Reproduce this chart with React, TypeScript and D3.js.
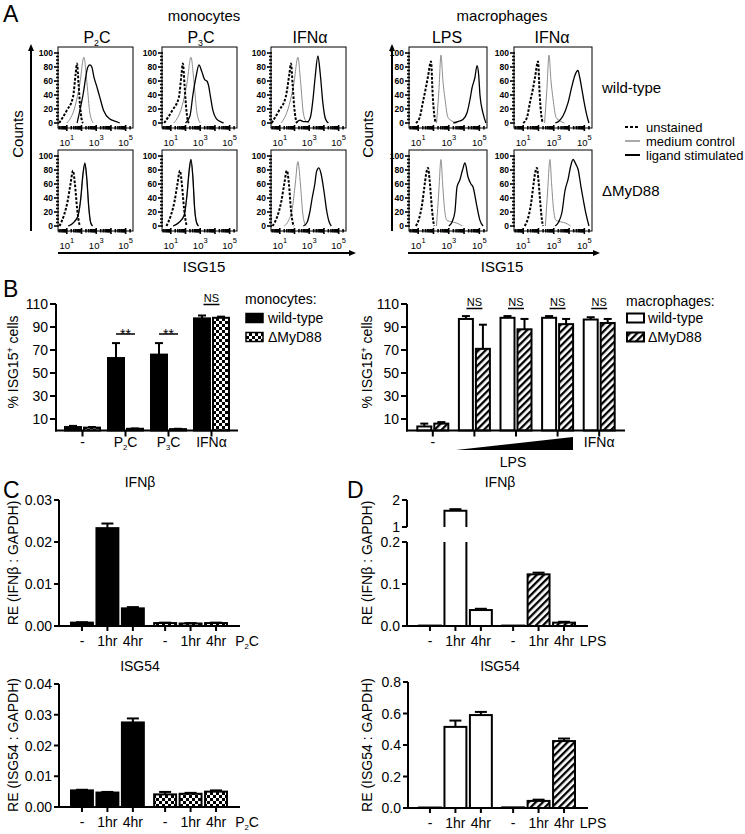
import React from 'react';
import * as d3 from 'd3';

type Pt = [number, number];
type Hist = { unstained: Pt[]; medium: Pt[]; ligand: Pt[] };

const FONT = '"Liberation Sans", Arial, Helvetica, sans-serif';

// ---------- A: flow histograms, [log10 ISG15, % of max] ----------
const monoWtP2C: Hist = {
  unstained: [[0.48, 0], [1.0, 18], [1.42, 37], [1.6, 70], [1.69, 85], [1.8, 55], [1.9, 25], [2.02, 4], [2.1, 0]],
  medium: [[1.0, 0], [1.55, 23], [1.89, 57], [2.16, 94], [2.37, 57], [2.57, 14], [2.8, 0]],
  ligand: [[1.7, 0], [2.1, 40], [2.43, 80], [2.57, 83], [2.7, 80], [2.84, 66], [3.04, 52], [3.24, 37], [3.5, 18], [3.9, 6], [4.37, 2], [4.6, 0]],
};
const monoWtP3C: Hist = {
  unstained: [[0.55, 0], [1.1, 18], [1.55, 37], [1.73, 70], [1.82, 85], [1.93, 55], [2.03, 25], [2.15, 4], [2.23, 0]],
  medium: [[1.2, 0], [1.75, 23], [2.1, 57], [2.37, 94], [2.58, 57], [2.78, 14], [3.0, 0]],
  ligand: [[2.0, 0], [2.3, 10], [2.5, 40], [2.75, 70], [2.91, 83], [3.1, 74], [3.3, 62], [3.45, 60], [3.55, 55], [3.7, 37], [3.86, 18], [4.1, 6], [4.47, 1], [4.6, 0]],
};
const monoWtIfn: Hist = {
  unstained: [[0.45, 0], [0.95, 18], [1.4, 37], [1.65, 70], [1.76, 85], [1.87, 55], [1.97, 25], [2.1, 4], [2.18, 0]],
  medium: [[1.1, 0], [1.6, 23], [1.96, 57], [2.23, 94], [2.42, 57], [2.6, 14], [2.8, 2], [3.0, 0]],
  ligand: [[2.1, 0], [2.37, 4], [2.6, 2], [2.9, 2], [3.1, 10], [3.25, 33], [3.4, 65], [3.59, 96], [3.75, 70], [3.93, 28], [4.1, 6], [4.3, 0]],
};
const monoKoP2C: Hist = {
  unstained: [[0.5, 0], [0.8, 15], [1.05, 35], [1.25, 60], [1.42, 79], [1.55, 60], [1.7, 25], [1.85, 3], [1.92, 0]],
  medium: [[1.1, 0], [1.5, 5], [1.75, 13], [1.95, 38], [2.1, 72], [2.22, 88], [2.35, 68], [2.5, 24], [2.62, 5], [2.75, 0]],
  ligand: [[1.1, 0], [1.5, 6], [1.75, 14], [1.95, 40], [2.1, 75], [2.23, 90], [2.35, 70], [2.5, 25], [2.62, 5], [2.75, 0]],
};
const monoKoP3C: Hist = {
  unstained: [[0.7, 0], [1.0, 15], [1.25, 35], [1.45, 60], [1.62, 79], [1.75, 60], [1.9, 25], [2.05, 3], [2.12, 0]],
  medium: [[1.15, 0], [1.55, 5], [1.9, 14], [2.1, 43], [2.25, 78], [2.36, 93], [2.5, 68], [2.62, 24], [2.75, 5], [2.88, 0]],
  ligand: [[1.15, 0], [1.55, 5], [1.9, 15], [2.1, 45], [2.25, 80], [2.37, 95], [2.5, 70], [2.62, 25], [2.75, 5], [2.88, 0]],
};
const monoKoIfn: Hist = {
  unstained: [[0.5, 0], [0.85, 15], [1.1, 35], [1.3, 60], [1.48, 79], [1.62, 60], [1.75, 25], [1.9, 3], [1.98, 0]],
  medium: [[1.3, 0], [1.6, 8], [1.85, 25], [2.05, 60], [2.23, 92], [2.4, 60], [2.55, 20], [2.7, 3], [2.8, 0]],
  ligand: [[2.6, 0], [2.85, 5], [3.04, 20], [3.2, 40], [3.38, 60], [3.5, 78], [3.65, 83], [3.8, 75], [4.0, 50], [4.2, 20], [4.35, 6], [4.5, 0]],
};
const macroWtLps: Hist = {
  unstained: [[0.85, 0], [1.1, 8], [1.31, 30], [1.5, 50], [1.64, 66], [1.84, 88], [1.95, 40], [2.05, 12], [2.16, 0]],
  medium: [[2.2, 0], [2.36, 48], [2.49, 97], [2.62, 60], [2.75, 35], [2.95, 8], [3.2, 3], [3.5, 0]],
  ligand: [[3.3, 0], [3.6, 2], [3.93, 5], [4.2, 15], [4.4, 35], [4.52, 50], [4.71, 65], [4.85, 82], [4.95, 70], [5.04, 40], [5.24, 14], [5.43, 0]],
};
const macroWtIfn: Hist = {
  unstained: [[1.0, 0], [1.25, 8], [1.45, 30], [1.65, 50], [1.78, 66], [1.97, 88], [2.08, 40], [2.18, 12], [2.28, 0]],
  medium: [[2.4, 0], [2.55, 48], [2.69, 97], [2.82, 60], [2.95, 35], [3.15, 8], [3.4, 3], [3.7, 0]],
  ligand: [[3.1, 0], [3.35, 3], [3.6, 10], [3.92, 28], [4.18, 52], [4.38, 68], [4.58, 75], [4.7, 65], [4.84, 48], [5.0, 28], [5.15, 12], [5.3, 0]],
};
const macroKoLps: Hist = {
  unstained: [[0.85, 0], [1.05, 10], [1.25, 30], [1.4, 55], [1.55, 78], [1.64, 83], [1.75, 65], [1.88, 30], [1.98, 8], [2.05, 0]],
  medium: [[2.2, 0], [2.35, 50], [2.49, 95], [2.6, 60], [2.72, 25], [2.88, 8], [3.2, 6], [3.54, 4], [3.9, 0]],
  ligand: [[3.0, 0], [3.2, 5], [3.4, 20], [3.54, 56], [3.73, 66], [3.9, 80], [4.06, 90], [4.26, 70], [4.45, 60], [4.58, 56], [4.84, 28], [5.04, 8], [5.24, 0]],
};
const macroKoIfn: Hist = {
  unstained: [[1.1, 0], [1.3, 10], [1.5, 30], [1.65, 55], [1.8, 78], [1.9, 83], [2.0, 65], [2.13, 30], [2.23, 8], [2.3, 0]],
  medium: [[2.45, 0], [2.6, 50], [2.75, 95], [2.86, 60], [2.98, 25], [3.15, 8], [3.45, 6], [3.8, 4], [4.1, 0]],
  ligand: [[3.1, 0], [3.3, 5], [3.54, 20], [3.73, 50], [3.95, 68], [4.1, 85], [4.26, 95], [4.45, 88], [4.6, 80], [4.78, 56], [4.95, 35], [5.1, 18], [5.3, 0]],
};

const monoLabels = ['P2C', 'P3C', 'IFNα'];
const macroLabels = ['LPS', 'IFNα'];
const monoRows = [[monoWtP2C, monoWtP3C, monoWtIfn], [monoKoP2C, monoKoP3C, monoKoIfn]];
const macroRows = [[macroWtLps, macroWtIfn], [macroKoLps, macroKoIfn]];
const rowLabels = ['wild-type', 'ΔMyD88'];
const histYTicks = [0, 20, 40, 60, 80, 100];
const histXTicks = [1, 3, 5];
const histLegend = ['unstained', 'medium control', 'ligand stimulated'];

// ---------- B: % ISG15+ cells ----------
const monoGroups = ['-', 'P2C', 'P3C', 'IFNα'];
const monoWt = [3, 63, 66, 97.5];
const monoWtErr = [1, 13, 10, 2.5];
const monoKo = [2.5, 1.5, 1.2, 98];
const monoKoErr = [0.5, 0.3, 0.3, 1];
const monoSig = ['', '**', '**', 'NS'];

const macroGroups = ['-', 'LPS1', 'LPS2', 'LPS3', 'IFNα'];
const macroWt = [3.5, 97, 98, 98, 96.5];
const macroWtErr = [2.5, 2.5, 1.5, 1.5, 2];
const macroKo = [6, 71, 88, 92.5, 93.5];
const macroKoErr = [1.3, 21, 9, 4.5, 3.5];
const macroSig = ['', 'NS', 'NS', 'NS', 'NS'];
const pctTicks = [10, 30, 50, 70, 90, 110];

// ---------- C / D: qPCR ----------
const genotypes = ['wild-type', 'ΔMyD88'];
const timepoints = ['-', '1hr', '4hr'];

const cIfnbWt = [0.0008, 0.0233, 0.0042];
const cIfnbWtErr = [0.0001, 0.0011, 0.0003];
const cIfnbKo = [0.0007, 0.0006, 0.0007];
const cIfnbKoErr = [0.0001, 0.0001, 0.0001];
const cIsgWt = [0.0054, 0.0047, 0.0275];
const cIsgWtErr = [0.0002, 0.0002, 0.0013];
const cIsgKo = [0.0041, 0.0043, 0.005];
const cIsgKoErr = [0.0008, 0.0003, 0.0004];

const dIfnbWt = [0.001, 1.6, 0.038];
const dIfnbWtErr = [0, 0.06, 0.003];
const dIfnbKo = [0.001, 0.123, 0.008];
const dIfnbKoErr = [0, 0.004, 0.002];
const dIsgWt = [0.003, 0.515, 0.59];
const dIsgWtErr = [0, 0.04, 0.02];
const dIsgKo = [0.004, 0.045, 0.425];
const dIsgKoErr = [0, 0.008, 0.016];

// label with an optional subscript digit, e.g. P2C -> P₂C
function SubLabel({ text, x, y, size = 14, anchor = 'middle' }: { text: string; x: number; y: number; size?: number; anchor?: string }) {
  const m = text.match(/^P(\d)C$/);
  return (
    <text x={x} y={y} fontSize={size} textAnchor={anchor as any}>
      {m ? (
        <>
          <tspan>P</tspan>
          <tspan fontSize={size * 0.55} dy={size * 0.2}>{m[1]}</tspan>
          <tspan dy={-size * 0.2}>C</tspan>
        </>
      ) : text}
    </text>
  );
}

function HistPanel({ x0, y0, w, data }: { x0: number; y0: number; w: number; data: Hist }) {
  const h = 81;
  const x = d3.scaleLinear().domain([0.4, 5.5]).range([x0, x0 + w]);
  const y = d3.scaleLinear().domain([0, 100]).range([y0 + 76, y0 + 6]);
  const line = d3.line<Pt>().x(d => x(d[0])).y(d => y(d[1])).curve(d3.curveMonotoneX);
  const logTicks: { v: number; major: boolean }[] = [];
  for (let dec = 0; dec <= 5; dec++) {
    for (let k = 1; k <= 9; k++) {
      const v = dec + Math.log10(k);
      if (v > 0.45 && v < 5.45) logTicks.push({ v, major: k === 1 });
    }
  }
  const bottom = y0 + h;
  return (
    <g>
      <path d={line(data.medium) || ''} fill="none" stroke="#8c8c8c" strokeWidth={1} />
      <path d={line(data.ligand) || ''} fill="none" stroke="#000" strokeWidth={1.3} />
      <path d={line(data.unstained) || ''} fill="none" stroke="#000" strokeWidth={2} strokeDasharray="2.6,1.6" />
      <rect x={x0} y={y0} width={w} height={h} fill="none" stroke="#000" strokeWidth={1} />
      {logTicks.map((t, i) => (
        <line key={i} x1={x(t.v)} x2={x(t.v)} y1={bottom - (t.major ? 3 : 2)} y2={bottom + (t.major ? 3 : 1.5)} stroke="#000" strokeWidth={1.6} />
      ))}
      {d3.range(0, 101, 5).map(v => (
        <line key={v} x1={x0 - (v % 20 === 0 ? 4 : 2)} x2={x0 + 1} y1={y(v)} y2={y(v)} stroke="#000" strokeWidth={1.6} />
      ))}
      {histYTicks.map(v => (
        <text key={v} x={x0 - 5} y={y(v) + 3} fontSize={8.5} fontWeight="bold" textAnchor="end">{v}</text>
      ))}
      {histXTicks.map(v => (
        <text key={v} x={x(v)} y={bottom + 18} fontSize={9.5} textAnchor="middle">
          10<tspan fontSize={7.5} dy={-6}>{v}</tspan>
        </text>
      ))}
    </g>
  );
}

function Arrow({ x1, y1, x2, y2 }: { x1: number; y1: number; x2: number; y2: number }) {
  const ang = Math.atan2(y2 - y1, x2 - x1);
  const L = 7, W = 3;
  const bx = x2 - L * Math.cos(ang), by = y2 - L * Math.sin(ang);
  const px = -Math.sin(ang) * W, py = Math.cos(ang) * W;
  return (
    <g>
      <line x1={x1} y1={y1} x2={bx} y2={by} stroke="#000" strokeWidth={2} />
      <polygon points={`${x2},${y2} ${bx + px},${by + py} ${bx - px},${by - py}`} fill="#000" />
    </g>
  );
}

function ErrBar({ cx, y0, y1, cap }: { cx: number; y0: number; y1: number; cap: number }) {
  return (
    <g stroke="#000" strokeWidth={2}>
      <line x1={cx} x2={cx} y1={y0} y2={y1} />
      <line x1={cx - cap / 2} x2={cx + cap / 2} y1={y1} y2={y1} />
    </g>
  );
}

function PctPanel(props: {
  axisX: number; axisEnd: number; groups: string[]; labels: (string | null)[];
  wt: number[]; wtErr: number[]; ko: number[]; koErr: number[];
  fills: string[]; barW: number; sig: string[]; nsY: number; starY: number;
}) {
  const { axisX, axisEnd, groups, labels, wt, wtErr, ko, koErr, fills, barW, sig, nsY, starY } = props;
  const base = 430.5;
  const y = d3.scaleLinear().domain([0, 110]).range([base, 304]);
  const x = d3.scalePoint<string>().domain(groups).range([axisX + 5, axisEnd - 5]).padding(0.5);
  const series = [wt, ko];
  const errs = [wtErr, koErr];
  return (
    <g>
      {groups.map((g, gi) => series.map((s, si) => {
        const cx = x(g)!;
        const bx = si === 0 ? cx - 0.5 - barW : cx + 0.5;
        const v = s[gi];
        return (
          <g key={g + si}>
            <rect x={bx + 1} y={y(v)} width={barW - 2} height={base - y(v)} fill={fills[si]} stroke="#000" strokeWidth={2} />
            <ErrBar cx={bx + barW / 2} y0={y(v)} y1={y(v + errs[si][gi])} cap={8} />
          </g>
        );
      }))}
      <line x1={axisX} x2={axisX} y1={base + 1} y2={y(110)} stroke="#000" strokeWidth={2} />
      <line x1={axisX - 1} x2={axisEnd} y1={base} y2={base} stroke="#000" strokeWidth={2} />
      {pctTicks.map(v => (
        <g key={v}>
          <line x1={axisX - 6} x2={axisX} y1={y(v)} y2={y(v)} stroke="#000" strokeWidth={2} />
          <text x={axisX - 8} y={y(v) + 5} fontSize={14} textAnchor="end">{v}</text>
        </g>
      ))}
      {groups.map(g => (
        <line key={g} x1={x(g)} x2={x(g)} y1={base} y2={base + 6} stroke="#000" strokeWidth={2} />
      ))}
      {groups.map((g, gi) => labels[gi] ? <SubLabel key={g} text={labels[gi]!} x={x(g)!} y={447} /> : null)}
      {groups.map((g, gi) => {
        const cx = x(g)!;
        if (sig[gi] === '**') {
          return (
            <g key={g}>
              <line x1={cx - 9.5} x2={cx + 9.5} y1={starY} y2={starY} stroke="#000" strokeWidth={1.5} />
              <text x={cx} y={starY + 4.5} fontSize={14} textAnchor="middle">**</text>
            </g>
          );
        }
        if (sig[gi] === 'NS') {
          return (
            <g key={g}>
              <text x={cx} y={nsY} fontSize={11} textAnchor="middle">NS</text>
              <line x1={cx - 8} x2={cx + 8} y1={nsY + 2.5} y2={nsY + 2.5} stroke="#000" strokeWidth={1.5} />
            </g>
          );
        }
        return null;
      })}
    </g>
  );
}

function TimeBars(props: {
  axisX: number; axisEnd: number; base: number; y: d3.ScaleLinear<number, number>;
  ticks: number[]; fmt: (v: number) => string; groupRange: [number, number];
  wt: number[]; wtErr: number[]; ko: number[]; koErr: number[]; fills: string[];
  endLabel: string; endX: number; hideAxis?: boolean;
}) {
  const { axisX, axisEnd, base, y, ticks, fmt, groupRange, wt, wtErr, ko, koErr, fills, endLabel, endX, hideAxis } = props;
  const outer = d3.scaleBand<string>().domain(genotypes).range(groupRange).paddingInner(0.1).paddingOuter(0);
  const inner = d3.scaleBand<string>().domain(timepoints).range([0, outer.bandwidth()]).paddingInner(0.06);
  const series = [wt, ko];
  const errs = [wtErr, koErr];
  const bw = inner.bandwidth();
  return (
    <g>
      {genotypes.map((g, gi) => timepoints.map((t, ti) => {
        if (series[gi].length === 0) return null;
        const bx = outer(g)! + inner(t)!;
        const v = series[gi][ti];
        const e = errs[gi][ti];
        return (
          <g key={g + t}>
            <rect x={bx + 1} y={y(v)} width={bw - 2} height={Math.max(0, base - y(v))} fill={fills[gi]} stroke="#000" strokeWidth={2} />
            {e > 0 ? <ErrBar cx={bx + bw / 2} y0={y(v)} y1={y(v + e)} cap={12} /> : null}
          </g>
        );
      }))}
      {!hideAxis && (
        <g>
          <line x1={axisX} x2={axisX} y1={base + 1} y2={y(ticks[ticks.length - 1])} stroke="#000" strokeWidth={2} />
          {ticks.map(v => (
            <g key={v}>
              <line x1={axisX - 5} x2={axisX} y1={y(v)} y2={y(v)} stroke="#000" strokeWidth={2} />
              <text x={axisX - 7} y={y(v) + 5} fontSize={14} textAnchor="end">{fmt(v)}</text>
            </g>
          ))}
        </g>
      )}
      <line x1={axisX - 1} x2={axisEnd} y1={base} y2={base} stroke="#000" strokeWidth={2} />
      {genotypes.map(g => timepoints.map(t => {
        const cx = outer(g)! + inner(t)! + bw / 2;
        return (
          <g key={g + t}>
            <line x1={cx} x2={cx} y1={base} y2={base + 5} stroke="#000" strokeWidth={2} />
            <text x={cx} y={base + 20} fontSize={14} textAnchor="middle">{t}</text>
          </g>
        );
      }))}
      <SubLabel text={endLabel} x={endX} y={base + 20} />
    </g>
  );
}

function BrokenIfnb() {
  const base = 626;
  const axisX = 407;
  const yLo = d3.scaleLinear().domain([0, 0.2]).range([base, 542]);
  const yHi = d3.scaleLinear().domain([1, 2]).range([527, 500]);
  const outer = d3.scaleBand<string>().domain(genotypes).range([418, 576]).paddingInner(0.1).paddingOuter(0);
  const inner = d3.scaleBand<string>().domain(timepoints).range([0, outer.bandwidth()]).paddingInner(0.06);
  const bw = inner.bandwidth();
  const series = [dIfnbWt, dIfnbKo];
  const errs = [dIfnbWtErr, dIfnbKoErr];
  const fills = ['#fff', 'url(#hatch)'];
  const marks: React.ReactNode[] = [];
  genotypes.forEach((g, gi) => timepoints.forEach((t, ti) => {
    const bx = outer(g)! + inner(t)! + 1;
    const w = bw - 2;
    const v = series[gi][ti];
    const e = errs[gi][ti];
    if (v <= 0.2) {
      marks.push(
        <g key={g + t}>
          <rect x={bx} y={yLo(v)} width={w} height={base - yLo(v)} fill={fills[gi]} stroke="#000" strokeWidth={2} />
          {e > 0 ? <ErrBar cx={bx + w / 2} y0={yLo(v)} y1={yLo(v + e)} cap={12} /> : null}
        </g>
      );
    } else {
      marks.push(
        <g key={g + t}>
          <rect x={bx} y={yLo(0.2)} width={w} height={base - yLo(0.2)} fill={fills[gi]} />
          <path d={`M${bx},${base}V${yLo(0.2)}M${bx + w},${base}V${yLo(0.2)}`} stroke="#000" strokeWidth={2} fill="none" />
          <rect x={bx} y={yHi(v)} width={w} height={yHi(1) - yHi(v)} fill={fills[gi]} />
          <path d={`M${bx},${yHi(1)}V${yHi(v)}H${bx + w}V${yHi(1)}`} stroke="#000" strokeWidth={2} fill="none" />
          <ErrBar cx={bx + w / 2} y0={yHi(v)} y1={yHi(v + e)} cap={12} />
        </g>
      );
    }
  }));
  return (
    <g>
      {marks}
      <TimeBars axisX={axisX} axisEnd={588} base={base} y={yLo} ticks={[]} fmt={String} groupRange={[418, 576]}
        wt={[]} wtErr={[]} ko={[]} koErr={[]} fills={fills} endLabel="LPS" endX={593} hideAxis />
      <line x1={axisX} x2={axisX} y1={base + 1} y2={yLo(0.2)} stroke="#000" strokeWidth={2} />
      <line x1={axisX} x2={axisX} y1={yHi(1)} y2={yHi(2)} stroke="#000" strokeWidth={2} />
      {[0, 0.1, 0.2].map(v => (
        <g key={v}>
          <line x1={axisX - 5} x2={axisX} y1={yLo(v)} y2={yLo(v)} stroke="#000" strokeWidth={2} />
          <text x={axisX - 7} y={yLo(v) + 5} fontSize={14} textAnchor="end">{v.toFixed(1)}</text>
        </g>
      ))}
      {[1, 2].map(v => (
        <g key={v}>
          <line x1={axisX - 5} x2={axisX} y1={yHi(v)} y2={yHi(v)} stroke="#000" strokeWidth={2} />
          <text x={axisX - 7} y={yHi(v) + 5} fontSize={14} textAnchor="end">{v}</text>
        </g>
      ))}
    </g>
  );
}

function RotLabel({ x, y, children, size = 14 }: { x: number; y: number; children: React.ReactNode; size?: number }) {
  return (
    <text transform={`translate(${x},${y}) rotate(-90)`} fontSize={size} textAnchor="middle">{children}</text>
  );
}

const PctLabel = () => (
  <>
    <tspan>% ISG15</tspan>
    <tspan fontSize={9} dy={-5}>+</tspan>
    <tspan dy={5}> cells</tspan>
  </>
);

export default function App() {
  const monoX = [58, 162, 271];
  const macroX = [409, 514];
  const rowY = [47, 150];

  const cTop = d3.scaleLinear().domain([0, 0.03]).range([626, 500]);
  const cBot = d3.scaleLinear().domain([0, 0.04]).range([807, 684]);
  const dBot = d3.scaleLinear().domain([0, 0.8]).range([808, 682]);

  return (
    <svg width={745} height={834} style={{ position: 'absolute', left: 0, top: 0, background: '#fff' }} fontFamily={FONT}>
      <defs>
        <pattern id="hatch" patternUnits="userSpaceOnUse" width={5} height={5} patternTransform="rotate(45)">
          <rect width={5} height={5} fill="#fff" />
          <rect width={2.3} height={5} fill="#000" />
        </pattern>
        <pattern id="checker" patternUnits="userSpaceOnUse" width={6} height={6}>
          <rect width={6} height={6} fill="#fff" />
          <rect width={3} height={3} fill="#000" />
          <rect x={3} y={3} width={3} height={3} fill="#000" />
        </pattern>
      </defs>

      {/* ---------- A ---------- */}
      <text x={3} y={22} fontSize={23}>A</text>
      <text x={204} y={21} fontSize={15} textAnchor="middle">monocytes</text>
      <text x={502} y={21} fontSize={15} textAnchor="middle">macrophages</text>
      {monoLabels.map((l, i) => <SubLabel key={l} text={l} x={monoX[i] + 39} y={43} size={16} />)}
      {macroLabels.map((l, i) => <SubLabel key={l} text={l} x={macroX[i] + 38} y={43} size={16} />)}
      {monoRows.map((row, r) => row.map((h, i) => (
        <HistPanel key={`m${r}${i}`} x0={monoX[i]} y0={rowY[r]} w={75} data={h} />
      )))}
      {macroRows.map((row, r) => row.map((h, i) => (
        <HistPanel key={`M${r}${i}`} x0={macroX[i]} y0={rowY[r]} w={78} data={h} />
      )))}
      <Arrow x1={31} y1={231} x2={31} y2={44} />
      <Arrow x1={392} y1={231} x2={392} y2={44} />
      <Arrow x1={58} y1={253} x2={356} y2={253} />
      <Arrow x1={408} y1={253} x2={600} y2={253} />
      <RotLabel x={23} y={134} size={15}>Counts</RotLabel>
      <RotLabel x={373} y={134} size={15}>Counts</RotLabel>
      <text x={204} y={272} fontSize={15} textAnchor="middle">ISG15</text>
      <text x={502} y={272} fontSize={15} textAnchor="middle">ISG15</text>
      {rowLabels.map((l, r) => (
        <text key={l} x={602} y={rowY[r] + 46} fontSize={15}>{l}</text>
      ))}
      {histLegend.map((l, i) => (
        <g key={l}>
          <line x1={625} x2={640} y1={127 + i * 14} y2={127 + i * 14}
            stroke={i === 1 ? '#8c8c8c' : '#000'} strokeWidth={i === 1 ? 1.5 : 2}
            strokeDasharray={i === 0 ? '3,2' : undefined} />
          <text x={646} y={127 + i * 14 + 4.5} fontSize={13}>{l}</text>
        </g>
      ))}

      {/* ---------- B ---------- */}
      <text x={3} y={297} fontSize={23}>B</text>
      <PctPanel axisX={56} axisEnd={238} groups={monoGroups} labels={monoGroups}
        wt={monoWt} wtErr={monoWtErr} ko={monoKo} koErr={monoKoErr}
        fills={['#000', 'url(#checker)']} barW={18} sig={monoSig} nsY={302} starY={334} />
      <PctPanel axisX={407} axisEnd={625} groups={macroGroups} labels={['-', null, null, null, 'IFNα']}
        wt={macroWt} wtErr={macroWtErr} ko={macroKo} koErr={macroKoErr}
        fills={['#fff', 'url(#hatch)']} barW={16} sig={macroSig} nsY={306} starY={334} />
      <RotLabel x={18} y={362}><PctLabel /></RotLabel>
      <RotLabel x={372} y={362}><PctLabel /></RotLabel>
      <path d="M456,450 L573,437 L573,450 Z" fill="#000" />
      <text x={513} y={467} fontSize={14} textAnchor="middle">LPS</text>
      <text x={245} y={304} fontSize={14}>monocytes:</text>
      {genotypes.map((g, i) => (
        <g key={g}>
          <rect x={246} y={313.5 + i * 19} width={17} height={9} fill={i === 0 ? '#000' : 'url(#checker)'} stroke="#000" strokeWidth={1.5} />
          <text x={268} y={323 + i * 19} fontSize={14}>{g}</text>
        </g>
      ))}
      <text x={626} y={306} fontSize={14}>macrophages:</text>
      {genotypes.map((g, i) => (
        <g key={g}>
          <rect x={627} y={313.5 + i * 19} width={17} height={9} fill={i === 0 ? '#fff' : 'url(#hatch)'} stroke="#000" strokeWidth={2} />
          <text x={648} y={323 + i * 19} fontSize={14}>{g}</text>
        </g>
      ))}

      {/* ---------- C ---------- */}
      <text x={3} y={498} fontSize={23}>C</text>
      <text x={140} y={487} fontSize={14} textAnchor="middle">IFNβ</text>
      <text x={140} y={671} fontSize={14} textAnchor="middle">ISG54</text>
      <TimeBars axisX={59} axisEnd={240} base={626} y={cTop} ticks={[0, 0.01, 0.02, 0.03]} fmt={v => v.toFixed(2)}
        groupRange={[70, 228]} wt={cIfnbWt} wtErr={cIfnbWtErr} ko={cIfnbKo} koErr={cIfnbKoErr}
        fills={['#000', 'url(#checker)']} endLabel="P2C" endX={247} />
      <TimeBars axisX={59} axisEnd={240} base={807} y={cBot} ticks={[0, 0.01, 0.02, 0.03, 0.04]} fmt={v => v.toFixed(2)}
        groupRange={[70, 228]} wt={cIsgWt} wtErr={cIsgWtErr} ko={cIsgKo} koErr={cIsgKoErr}
        fills={['#000', 'url(#checker)']} endLabel="P2C" endX={247} />
      <RotLabel x={18} y={563}>RE (IFNβ : GAPDH)</RotLabel>
      <RotLabel x={18} y={745}>RE (ISG54 : GAPDH)</RotLabel>

      {/* ---------- D ---------- */}
      <text x={347} y={498} fontSize={23}>D</text>
      <text x={500} y={487} fontSize={14} textAnchor="middle">IFNβ</text>
      <text x={500} y={671} fontSize={14} textAnchor="middle">ISG54</text>
      <BrokenIfnb />
      <TimeBars axisX={408} axisEnd={588} base={808} y={dBot} ticks={[0, 0.2, 0.4, 0.6, 0.8]} fmt={v => v.toFixed(1)}
        groupRange={[418, 576]} wt={dIsgWt} wtErr={dIsgWtErr} ko={dIsgKo} koErr={dIsgKoErr}
        fills={['#fff', 'url(#hatch)']} endLabel="LPS" endX={593} />
      <RotLabel x={372} y={563}>RE (IFNβ : GAPDH)</RotLabel>
      <RotLabel x={372} y={745}>RE (ISG54 : GAPDH)</RotLabel>
    </svg>
  );
}
